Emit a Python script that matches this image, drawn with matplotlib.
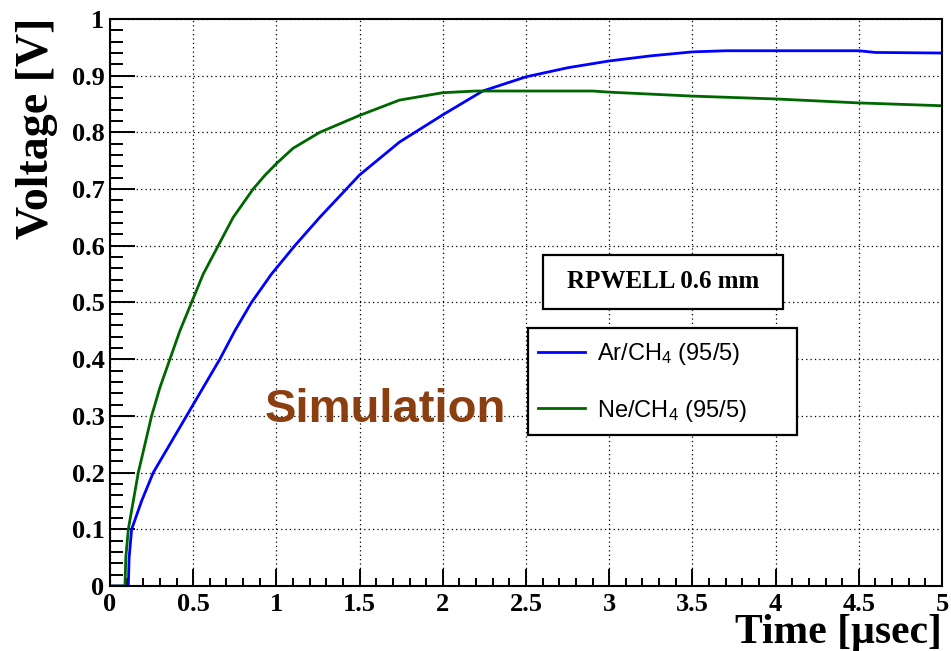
import numpy as np
import matplotlib
matplotlib.use("Agg")
import matplotlib.pyplot as plt
from matplotlib.patches import Rectangle
from matplotlib.ticker import MultipleLocator

plt.rcParams['mathtext.fontset'] = 'custom'
plt.rcParams['mathtext.rm'] = 'Liberation Sans'
plt.rcParams['mathtext.it'] = 'Liberation Sans:italic'

# Ar/CH4 (95/5) signal
ar_t = [0, 0.11, 0.115, 0.13, 0.19, 0.26, 0.36, 0.46, 0.56, 0.66, 0.75, 0.85,
        0.97, 1.11, 1.26, 1.42, 1.5, 1.74, 2.0, 2.24, 2.5, 2.75, 3.0, 3.25, 3.5, 3.7,
        4.5, 4.6, 5.0]
ar_v = [0, 0, 0.05, 0.1, 0.15, 0.2, 0.25, 0.3, 0.35, 0.4, 0.45, 0.5,
        0.55, 0.6, 0.65, 0.7, 0.725, 0.783, 0.831, 0.873, 0.898, 0.914, 0.926, 0.935, 0.942, 0.944,
        0.944, 0.941, 0.940]

# Ne/CH4 (95/5) signal
ne_t = [0, 0.09, 0.095, 0.11, 0.14, 0.17, 0.21, 0.25, 0.3, 0.36, 0.42, 0.49,
        0.56, 0.65, 0.74, 0.86, 0.93, 1.0, 1.1, 1.26, 1.5, 1.74, 2.0, 2.2, 2.9, 3.0,
        3.5, 4.0, 4.5, 5.0]
ne_v = [0, 0, 0.05, 0.1, 0.15, 0.2, 0.25, 0.3, 0.35, 0.4, 0.45, 0.5,
        0.55, 0.6, 0.65, 0.7, 0.724, 0.745, 0.772, 0.8, 0.83, 0.857, 0.87, 0.873, 0.873, 0.871,
        0.864, 0.859, 0.852, 0.847]

labels = ["Ar/CH$_4$ (95/5)", "Ne/CH$_4$ (95/5)"]

W, H = 951, 651
fig = plt.figure(figsize=(W / 100, H / 100), dpi=100)
ax = fig.add_axes([110 / W, 1 - 586 / H, (942 - 110) / W, (586 - 19) / H])

ax.plot(ar_t, ar_v, color='#0000ff', lw=2.0, label=labels[0])
ax.plot(ne_t, ne_v, color='#006600', lw=2.0, label=labels[1])

ax.set_xlim(0, 5)
ax.set_ylim(0, 1)
ax.xaxis.set_major_locator(MultipleLocator(0.5))
ax.xaxis.set_minor_locator(MultipleLocator(0.1))
ax.yaxis.set_major_locator(MultipleLocator(0.1))
ax.yaxis.set_minor_locator(MultipleLocator(0.02))
ax.xaxis.set_major_formatter(plt.FuncFormatter(lambda v, p: f"{v:g}"))
ax.yaxis.set_major_formatter(plt.FuncFormatter(lambda v, p: f"{v:g}"))
ax.grid(True, which='major', color='black', ls=(0, (1, 2.5)), lw=0.9)

ax.tick_params(which='both', direction='in', width=1.4, top=False, right=False)
ax.tick_params(axis='y', which='major', length=18, pad=4)
ax.tick_params(axis='y', which='minor', length=9)
ax.tick_params(axis='x', which='major', length=12, pad=5)
ax.tick_params(axis='x', which='minor', length=6)
for lab in ax.get_xticklabels() + ax.get_yticklabels():
    lab.set_fontfamily('Liberation Serif')
    lab.set_fontweight('bold')
    lab.set_fontsize(19)
for s in ax.spines.values():
    s.set_linewidth(1.5)

fig.text(37 / W, 1 - 18 / H, "Voltage [V]", rotation=90, ha='center', va='top',
         family='Liberation Serif', weight='bold', fontsize=33)
fig.text(942 / W, 1 - 643 / H, "Time [\u00b5sec]", ha='right', va='baseline',
         family='Liberation Serif', weight='bold', fontsize=30)

ax.text(265 / W, 1 - 422 / H, "Simulation", ha='left', va='baseline',
        transform=fig.transFigure, family='Liberation Sans', weight='bold',
        fontsize=34, color='#8b3e0f', zorder=4)

# RPWELL label box
ax.add_patch(Rectangle((543 / W, 1 - 309 / H), (783 - 543) / W, (309 - 255) / H,
                       transform=fig.transFigure, facecolor='white', clip_on=False,
                       edgecolor='black', lw=1.6, zorder=3))
ax.text(663 / W, 1 - 282 / H, "RPWELL 0.6 mm", ha='center', va='center',
        transform=fig.transFigure, family='Liberation Serif', weight='bold',
        fontsize=18, zorder=4)

# legend box
ax.add_patch(Rectangle((528 / W, 1 - 435 / H), (797 - 528) / W, (435 - 328) / H,
                       transform=fig.transFigure, facecolor='white', clip_on=False,
                       edgecolor='black', lw=1.6, zorder=3))
leg = ax.legend(loc='upper left', bbox_to_anchor=(538 / W, 1 - 341 / H),
                bbox_transform=fig.transFigure, frameon=False, borderpad=0,
                borderaxespad=0, handlelength=2.0, handletextpad=0.5,
                labelspacing=1.3, prop={'family': 'Liberation Sans', 'size': 17})
leg.set_zorder(5)

fig.savefig("out.png", dpi=100)
